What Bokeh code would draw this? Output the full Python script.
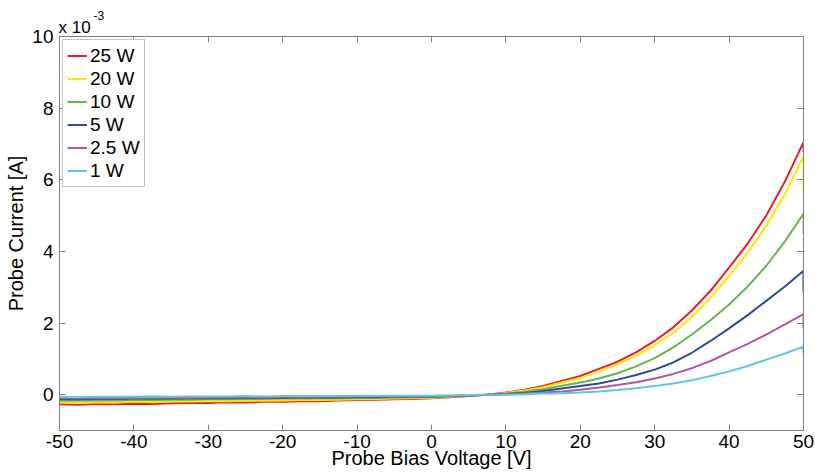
from bokeh.plotting import figure
from bokeh.models import Range1d, LinearAxis, FixedTicker, CustomJSTickFormatter, Title, Legend, LegendItem
from bokeh.embed import file_html
from bokeh.resources import INLINE

# Probe bias voltage [V]
voltage = [-50, -47.5, -45, -42.5, -40, -37.5, -35, -32.5, -30, -27.5, -25, -22.5, -20,
           -17.5, -15, -12.5, -10, -7.5, -5, -2.5, 0, 2.5, 5, 7.5, 10, 12.5, 15, 17.5,
           20, 22.5, 25, 27.5, 30, 32.5, 35, 37.5, 40, 42.5, 45, 47.5, 50, 50]

# Probe current [x 10^-3 A]
i_25w = [-0.27, -0.28, -0.26, -0.27, -0.25, -0.26, -0.24, -0.23, -0.23, -0.21, -0.22, -0.20, -0.20,
         -0.18, -0.18, -0.16, -0.15, -0.14, -0.13, -0.12, -0.10, -0.07, -0.04, 0.00, 0.06, 0.14, 0.24, 0.38,
         0.52, 0.72, 0.92, 1.18, 1.50, 1.88, 2.35, 2.90, 3.55, 4.22, 5.00, 5.95, 7.05, 6.76]
i_20w = [-0.22, -0.23, -0.21, -0.22, -0.20, -0.21, -0.19, -0.19, -0.18, -0.18, -0.17, -0.17, -0.16,
         -0.15, -0.15, -0.14, -0.13, -0.12, -0.11, -0.10, -0.09, -0.06, -0.03, 0.00, 0.05, 0.12, 0.21, 0.34,
         0.47, 0.65, 0.85, 1.09, 1.38, 1.73, 2.17, 2.70, 3.32, 3.97, 4.72, 5.60, 6.65, 5.60]
i_10w = [-0.17, -0.17, -0.16, -0.16, -0.15, -0.15, -0.14, -0.14, -0.13, -0.13, -0.12, -0.12, -0.11,
         -0.11, -0.10, -0.10, -0.09, -0.09, -0.08, -0.07, -0.07, -0.05, -0.03, 0.00, 0.03, 0.08, 0.15, 0.25,
         0.34, 0.45, 0.60, 0.79, 1.02, 1.32, 1.68, 2.08, 2.52, 3.02, 3.60, 4.28, 5.05, 4.50]
i_5w = [-0.12, -0.13, -0.12, -0.12, -0.11, -0.11, -0.11, -0.10, -0.10, -0.10, -0.09, -0.09, -0.09,
        -0.08, -0.08, -0.08, -0.07, -0.07, -0.06, -0.06, -0.05, -0.04, -0.02, 0.00, 0.02, 0.05, 0.10, 0.17,
        0.24, 0.31, 0.42, 0.55, 0.70, 0.90, 1.17, 1.50, 1.85, 2.22, 2.62, 3.02, 3.46, 2.85]
i_2_5w = [-0.10, -0.10, -0.09, -0.10, -0.09, -0.09, -0.08, -0.09, -0.08, -0.08, -0.07, -0.08, -0.07,
          -0.07, -0.06, -0.06, -0.06, -0.05, -0.05, -0.05, -0.04, -0.03, -0.02, 0.00, 0.01, 0.03, 0.06, 0.09,
          0.14, 0.20, 0.27, 0.35, 0.45, 0.58, 0.74, 0.94, 1.18, 1.42, 1.68, 1.96, 2.25, 1.87]
i_1w = [-0.06, -0.07, -0.06, -0.06, -0.06, -0.05, -0.06, -0.05, -0.05, -0.05, -0.04, -0.05, -0.04,
        -0.04, -0.04, -0.04, -0.03, -0.03, -0.03, -0.03, -0.03, -0.02, -0.01, 0.00, 0.00, 0.01, 0.03, 0.04,
        0.06, 0.09, 0.13, 0.18, 0.24, 0.31, 0.40, 0.52, 0.65, 0.80, 0.98, 1.15, 1.34, 1.15]

series_labels = ["25 W", "20 W", "10 W", "5 W", "2.5 W", "1 W"]
series_values = [i_25w, i_20w, i_10w, i_5w, i_2_5w, i_1w]
series_colors = ["#EE1D23", "#FFE800", "#62B946", "#2B4C9B", "#B455A3", "#5DC9DB"]

x_ticks = [-50, -40, -30, -20, -10, 0, 10, 20, 30, 40, 50]
x_tick_labels = ["-50", "-40", "-30", "-20", "-10", "0", "10", "20", "30", "40", "50"]
y_ticks = [0, 2, 4, 6, 8, 10]
y_tick_labels = ["0", "2", "4", "6", "8", "10"]

FONT = "Liberation Sans"
AX = "#808080"

p = figure(width=815, height=472, x_range=Range1d(-50, 50), y_range=Range1d(-1, 10),
           output_backend="svg", toolbar_location=None, title=None,
           min_border_left=59, min_border_right=12, min_border_top=36, min_border_bottom=42,
           x_axis_location=None, y_axis_location=None)
p.grid.visible = False
p.outline_line_color = AX
p.outline_line_width = 1
p.background_fill_color = "white"
p.border_fill_color = "white"

def style_axis(ax, ticks, labels):
    ax.ticker = FixedTicker(ticks=ticks)
    ax.axis_line_color = AX
    ax.major_tick_line_color = AX
    ax.major_tick_in = 6
    ax.major_tick_out = 0
    ax.minor_tick_line_color = None
    ax.major_label_text_font = FONT
    ax.major_label_text_font_size = "19px"
    ax.major_label_text_color = "black"
    ax.axis_label_text_font = FONT
    ax.axis_label_text_font_size = "20px"
    ax.axis_label_text_font_style = "normal"
    ax.axis_label_text_color = "black"
    if labels is None:
        ax.formatter = CustomJSTickFormatter(code="return ''")
        ax.major_label_standoff = 0
    else:
        ax.major_label_overrides = {t: s for t, s in zip(ticks, labels)}

xb = LinearAxis(axis_label="Probe Bias Voltage [V]")
style_axis(xb, x_ticks, x_tick_labels)
xb.major_label_standoff = 4
xb.axis_label_standoff = -4
xt = LinearAxis(); style_axis(xt, x_ticks, None)
yl = LinearAxis(axis_label="Probe Current [A]")
style_axis(yl, y_ticks, y_tick_labels)
yl.major_label_standoff = 6
yl.axis_label_standoff = 2
yr = LinearAxis(); style_axis(yr, y_ticks, None)
p.add_layout(xb, "below")
p.add_layout(xt, "above")
p.add_layout(yl, "left")
p.add_layout(yr, "right")

# exponent of the y axis: "x 10" with superscript "-3"
p.add_layout(Title(text="x 10", align="left", offset=-1, standoff=0, text_font=FONT,
                   text_font_size="17px", text_font_style="normal", text_color="black"), "above")
p.add_layout(Title(text="-3", align="left", offset=34, standoff=-8, text_font=FONT,
                   text_font_size="12px", text_font_style="normal", text_color="black"), "above")

items = []
for lab, vals, col in zip(series_labels, series_values, series_colors):
    r = p.line(voltage, vals, line_color=col, line_width=2)
    items.append(LegendItem(label=lab, renderers=[r]))

leg = Legend(items=items, location="top_left")
leg.margin = 3
leg.padding = 4
leg.spacing = 0
leg.glyph_width = 20
leg.glyph_height = 23
leg.label_height = 23
leg.label_standoff = 3
leg.label_text_font = FONT
leg.label_text_font_size = "19px"
leg.label_text_color = "black"
leg.border_line_color = "#888888"
leg.border_line_width = 1
leg.background_fill_color = "white"
leg.background_fill_alpha = 1
p.add_layout(leg)

open("out.html", "w").write(file_html(p, INLINE))
